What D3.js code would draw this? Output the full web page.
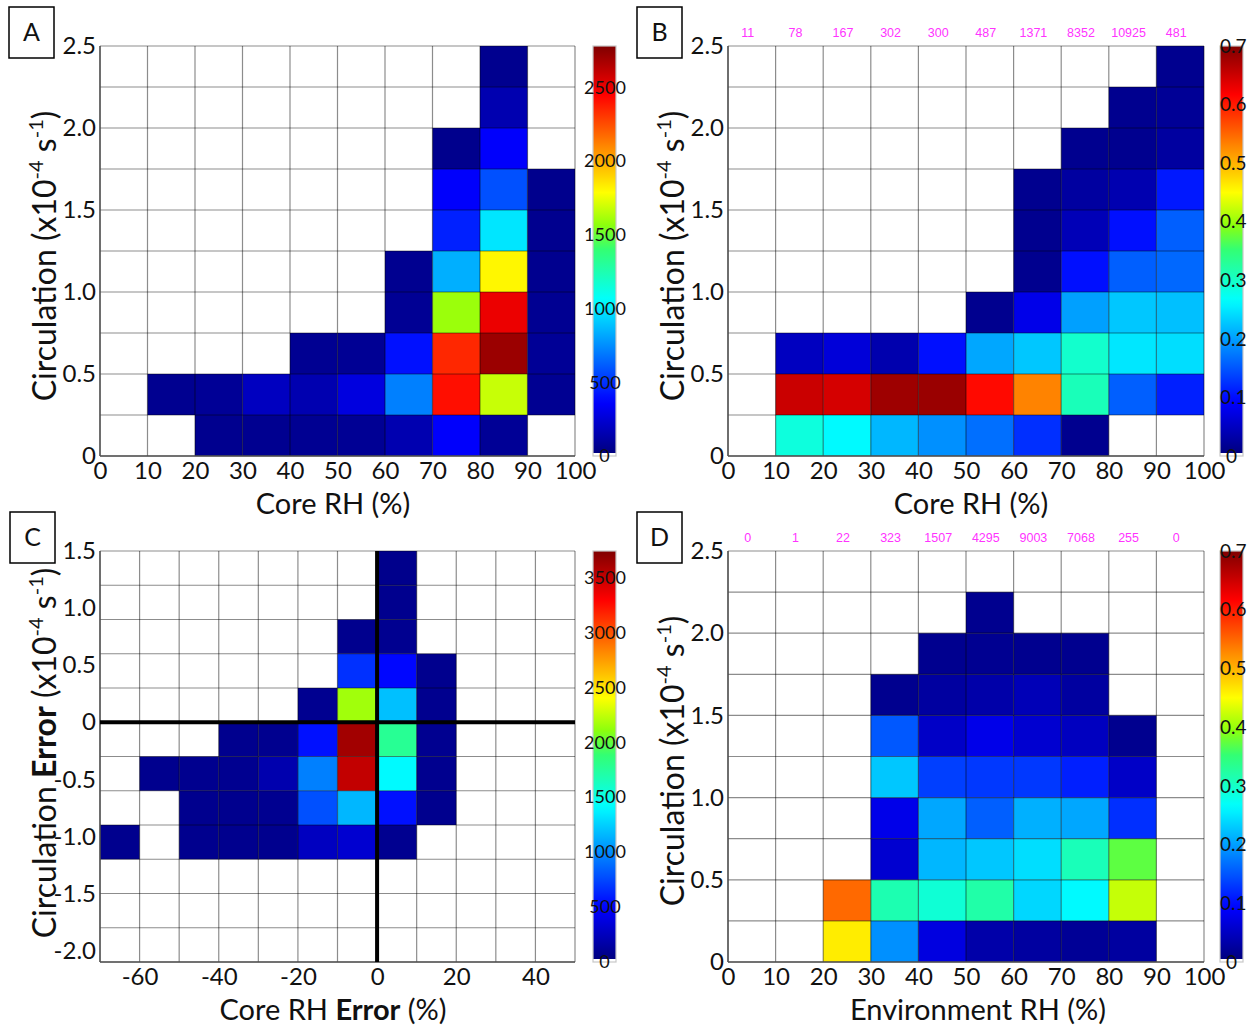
<!DOCTYPE html>
<html><head><meta charset="utf-8">
<script src="https://cdn.jsdelivr.net/npm/d3@7"></script>
<style>
body{margin:0;background:#fff}
text{font-family:Lato,"Open Sans",sans-serif;fill:#111}
</style>
</head><body>
<svg id="chart" width="1258" height="1026"></svg>
<script>
// ---------------- DATA ----------------
const rhTicks = [0,10,20,30,40,50,60,70,80,90,100];
const rhTickLabels = ["0","10","20","30","40","50","60","70","80","90","100"];
const circTicks = [0,0.5,1.0,1.5,2.0,2.5];
const circTickLabels = ["0","0.5","1.0","1.5","2.0","2.5"];
const errXTicks = [-60,-40,-20,0,20,40];
const errXTickLabels = ["-60","-40","-20","0","20","40"];
const errYTicks = [1.5,1.0,0.5,0,-0.5,-1.0,-1.5,-2.0];
const errYTickLabels = ["1.5","1.0","0.5","0","-0.5","-1.0","-1.5","-2.0"];

const cbCountTicksA = [0,500,1000,1500,2000,2500];
const cbCountTicksC = [0,500,1000,1500,2000,2500,3000,3500];
const cbFracTicks = [0,0.1,0.2,0.3,0.4,0.5,0.6,0.7];
const cbFracLabels = ["0","0.1","0.2","0.3","0.4","0.5","0.6","0.7"];

const samplesB = [11,78,167,302,300,487,1371,8352,10925,481];
const samplesD = [0,1,22,323,1507,4295,9003,7068,255,0];

// Panel A: counts, rows from circulation 0-0.25 (bottom) upward, columns Core RH 0-10 ... 90-100
const countA = [
  [null,null,40,45,50,55,130,340,60,null],
  [null,45,60,175,130,260,695,2410,1670,50],
  [null,null,null,null,50,55,390,2345,2710,60],
  [null,null,null,null,null,null,55,1585,2495,50],
  [null,null,null,null,null,null,45,825,1800,40],
  [null,null,null,null,null,null,null,435,975,40],
  [null,null,null,null,null,null,null,340,565,35],
  [null,null,null,null,null,null,null,35,340,null],
  [null,null,null,null,null,null,null,null,130,null],
  [null,null,null,null,null,null,null,null,40,null]
];
// Panel B: fraction per Core RH column
const fracB = [
  [null,0.284,0.259,0.213,0.186,0.164,0.120,0.010,null,null],
  [null,0.651,0.644,0.680,0.683,0.610,0.530,0.306,0.153,0.109],
  [null,0.044,0.061,0.032,0.098,0.202,0.224,0.294,0.246,0.240],
  [null,null,null,null,null,0.010,0.072,0.197,0.224,0.219],
  [null,null,null,null,null,null,0.010,0.098,0.153,0.159],
  [null,null,null,null,null,null,0.010,0.038,0.098,0.153],
  [null,null,null,null,null,null,0.010,0.022,0.033,0.104],
  [null,null,null,null,null,null,null,0.010,0.010,0.022],
  [null,null,null,null,null,null,null,null,0.010,0.015],
  [null,null,null,null,null,null,null,null,null,0.010]
];
// Panel C: counts, rows from circulation error -2.1..-1.8 (bottom) upward, columns core RH error -70..-60 ... 40..50
const countC = [
  [null,null,null,null,null,null,null,null,null,null,null,null],
  [null,null,null,null,null,null,null,null,null,null,null,null],
  [null,null,null,null,null,null,null,null,null,null,null,null],
  [50,null,50,50,50,235,295,60,null,null,null,null],
  [null,null,50,50,60,760,1140,525,50,null,null,null],
  [null,50,55,60,170,935,3505,1385,55,null,null,null],
  [null,null,null,50,55,525,3620,1760,60,null,null,null],
  [null,null,null,null,null,60,2150,1170,55,null,null,null],
  [null,null,null,null,null,null,645,490,50,null,null,null],
  [null,null,null,null,null,null,50,60,null,null,null,null],
  [null,null,null,null,null,null,null,50,null,null,null,null],
  [null,null,null,null,null,null,null,45,null,null,null,null]
];
// Panel D: fraction per Environment RH column
const fracD = [
  [null,null,0.460,0.186,0.066,0.028,0.022,0.015,0.022,null],
  [null,null,0.547,0.311,0.289,0.317,0.235,0.259,0.420,null],
  [null,null,null,0.055,0.213,0.224,0.240,0.306,0.370,null],
  [null,null,null,0.072,0.202,0.153,0.208,0.202,0.120,null],
  [null,null,null,0.224,0.131,0.126,0.126,0.109,0.049,null],
  [null,null,null,0.148,0.049,0.072,0.055,0.044,0.010,null],
  [null,null,null,0.010,0.022,0.028,0.038,0.022,null,null],
  [null,null,null,null,0.010,0.012,0.010,0.010,null,null],
  [null,null,null,null,null,0.010,null,null,null,null],
  [null,null,null,null,null,null,null,null,null,null]
];

// colour map (jet-like)
const cmapStops = [0,0.125,0.375,0.5,0.56,0.64,0.88,1];
const cmapColors = ["#000080","#0000ff","#00ffff","#33ff73","#8cff0d","#ffff00","#ff0000","#800000"];

// ---------------- HELPERS ----------------
const cmap = d3.scaleLinear().domain(cmapStops).range(cmapColors).interpolate(d3.interpolateRgb).clamp(true);
function jet(t){ return cmap(t); }
const svg = d3.select("#chart");
const defs = svg.append("defs");
const grad = defs.append("linearGradient").attr("id","jetgrad")
  .attr("x1",0).attr("y1",1).attr("x2",0).attr("y2",0);
d3.range(0,1.0001,0.02).forEach(t => grad.append("stop").attr("offset",t).attr("stop-color",jet(t)));

function panel(o){
  const g = svg.append("g");
  const xs = d3.scaleLinear().domain(o.xDomain).range([o.x0,o.x1]);
  const ys = d3.scaleLinear().domain(o.yDomain).range([o.y1,o.y0]);
  const color = d3.scaleSequential(jet).domain([0,o.max]);
  const nCols = Math.round((o.xDomain[1]-o.xDomain[0])/o.xStep);
  const nRows = Math.round((o.yDomain[1]-o.yDomain[0])/o.yStep);
  // cells
  const cells = [];
  o.data.forEach((row,i)=>row.forEach((v,j)=>{ if(v!==null) cells.push({i,j,v}); }));
  g.selectAll("rect.cell").data(cells).enter().append("rect")
    .attr("x", d=>xs(o.xDomain[0]+d.j*o.xStep))
    .attr("y", d=>ys(o.yDomain[0]+(d.i+1)*o.yStep))
    .attr("width", d=>xs(o.xDomain[0]+(d.j+1)*o.xStep)-xs(o.xDomain[0]+d.j*o.xStep))
    .attr("height", d=>ys(o.yDomain[0]+d.i*o.yStep)-ys(o.yDomain[0]+(d.i+1)*o.yStep))
    .attr("fill", d=>color(d.v));
  // grid
  const xe = d3.range(nCols+1).map(k=>o.xDomain[0]+k*o.xStep);
  const ye = d3.range(nRows+1).map(k=>o.yDomain[0]+k*o.yStep);
  g.selectAll("line.vx").data(xe).enter().append("line")
    .attr("x1",d=>xs(d)).attr("x2",d=>xs(d)).attr("y1",o.y0).attr("y2",o.y1)
    .attr("stroke","#000").attr("stroke-opacity",0.45).attr("stroke-width",1.2);
  g.selectAll("line.hy").data(ye).enter().append("line")
    .attr("y1",d=>ys(d)).attr("y2",d=>ys(d)).attr("x1",o.x0).attr("x2",o.x1)
    .attr("stroke","#000").attr("stroke-opacity",0.45).attr("stroke-width",1.2);
  // axes lines (left and bottom darker)
  g.append("line").attr("x1",o.x0).attr("x2",o.x0).attr("y1",o.y0).attr("y2",o.y1).attr("stroke","#555").attr("stroke-width",1.5);
  g.append("line").attr("x1",o.x0).attr("x2",o.x1).attr("y1",o.y1).attr("y2",o.y1).attr("stroke","#555").attr("stroke-width",1.5);
  if(o.cross){
    g.append("line").attr("x1",o.x0).attr("x2",o.x1).attr("y1",ys(0)).attr("y2",ys(0)).attr("stroke","#000").attr("stroke-width",4);
    g.append("line").attr("x1",xs(0)).attr("x2",xs(0)).attr("y1",o.y0).attr("y2",o.y1).attr("stroke","#000").attr("stroke-width",4);
  }
  // x axis labels
  const xa = d3.axisBottom(xs).tickValues(o.xTicks).tickFormat((d,i)=>o.xTickLabels[i]).tickSize(0).tickPadding(o.xTickPad);
  const gx = g.append("g").attr("transform",`translate(0,${o.y1})`).call(xa);
  gx.select(".domain").remove();
  gx.selectAll("text").style("font-size","24px").style("font-family","Lato").attr("fill","#111");
  const ya = d3.axisLeft(ys).tickValues(o.yTicks).tickFormat((d,i)=>o.yTickLabels[i]).tickSize(0).tickPadding(4);
  const gy = g.append("g").attr("transform",`translate(${o.x0},0)`).call(ya);
  gy.select(".domain").remove();
  gy.selectAll("text").style("font-size","24px").style("font-family","Lato").attr("fill","#111");
  // x title
  const xt = g.append("text").attr("x",o.xTitleX).attr("y",o.y1+o.xTitleDy).attr("text-anchor","middle").style("font-size",o.xTitleFont+"px");
  o.xTitle.forEach(p=>xt.append("tspan").text(p.t).style("font-weight",p.b?"700":"400"));
  // y title
  const yt = g.append("text").attr("transform",`translate(${o.x0-44},${o.yTitleY}) rotate(-90)`).attr("text-anchor","middle").style("font-size","32px");
  o.yTitle.forEach(p=>{
    const ts = yt.append("tspan").text(p.t).style("font-weight",p.b?"700":"400");
    if(p.sup){ ts.style("font-size","20px").attr("dy",-13); }
    if(p.after){ ts.attr("dy",13); }
  });
  // colorbar
  const cbs = d3.scaleLinear().domain([0,o.max]).range([o.y1,o.y0]);
  g.append("rect").attr("x",o.cbX).attr("y",o.y0).attr("width",o.cbW).attr("height",o.y1-o.y0-3).attr("fill","url(#jetgrad)");
  g.append("rect").attr("x",o.cbX).attr("y",o.y0).attr("width",o.cbW).attr("height",o.y1-o.y0).attr("fill","none").attr("stroke","#c8c8c8").attr("stroke-width",1.2);
  g.selectAll("text.cb").data(o.cbTicks).enter().append("text")
    .attr("x",d=>d===0 ? o.cbX+o.cbW/2 : o.cbLabelX).attr("y",d=>cbs(d)).attr("dy","0.35em")
    .attr("text-anchor",d=>d===0 ? "middle" : o.cbAnchor).style("font-size",o.cbFont+"px")
    .text((d,i)=>o.cbLabels[i]);
  // panel letter
  g.append("rect").attr("x",o.box[0]).attr("y",o.box[1]).attr("width",45).attr("height",51).attr("fill","#fff").attr("stroke","#000").attr("stroke-width",1.5);
  g.append("text").attr("x",o.box[0]+22.5).attr("y",o.box[1]+34).attr("text-anchor","middle").style("font-size","25px").text(o.letter);
  // sample counts
  if(o.counts){
    g.selectAll("text.cnt").data(o.counts).enter().append("text")
      .attr("x",(d,i)=>xs(o.xDomain[0]+(i+0.5)*o.xStep)-4).attr("y",o.y0-9)
      .attr("text-anchor","middle").style("font-size","12.5px").style("font-family","'Liberation Sans',Arial,sans-serif")
      .style("fill","#ff33ff").text(d=>d);
  }
}

const circTitle = [{t:"Circulation (x10"},{t:"-4",sup:true},{t:" s",after:true},{t:"-1",sup:true},{t:")",after:true}];
const circErrTitle = [{t:"Circulation "},{t:"Error",b:true},{t:" (x10"},{t:"-4",sup:true},{t:" s",after:true},{t:"-1",sup:true},{t:")",after:true}];

panel({letter:"A",box:[9,7],x0:100,x1:575,y0:46,y1:456,xDomain:[0,100],yDomain:[0,2.5],xStep:10,yStep:0.25,
  data:countA,max:2780,xTicks:rhTicks,xTickLabels:rhTickLabels,yTicks:circTicks,yTickLabels:circTickLabels,
  xTickPad:6,xTitle:[{t:"Core RH (%)"}],xTitleX:333,xTitleDy:57.5,xTitleFont:29,yTitle:circTitle,yTitleY:256,
  cbX:593,cbW:23,cbTicks:cbCountTicksA,cbLabels:cbCountTicksA.map(String),cbLabelX:605,cbAnchor:"middle",cbFont:18});
panel({letter:"B",box:[637,7],x0:728,x1:1204,y0:46,y1:456,xDomain:[0,100],yDomain:[0,2.5],xStep:10,yStep:0.25,
  data:fracB,max:0.7,xTicks:rhTicks,xTickLabels:rhTickLabels,yTicks:circTicks,yTickLabels:circTickLabels,
  xTickPad:6,xTitle:[{t:"Core RH (%)"}],xTitleX:971,xTitleDy:57.5,xTitleFont:29,yTitle:circTitle,yTitleY:256,counts:samplesB,
  cbX:1220,cbW:23,cbTicks:cbFracTicks,cbLabels:cbFracLabels,cbLabelX:1220,cbAnchor:"start",cbFont:19});
panel({letter:"C",box:[10,512],x0:100,x1:575,y0:551,y1:962,xDomain:[-70,50],yDomain:[-2.1,1.5],xStep:10,yStep:0.3,
  data:countC,max:3740,xTicks:errXTicks,xTickLabels:errXTickLabels,yTicks:errYTicks,yTickLabels:errYTickLabels,cross:true,
  xTickPad:6,xTitle:[{t:"Core RH "},{t:"Error",b:true},{t:" (%)"}],xTitleX:333,xTitleDy:57.5,xTitleFont:29,yTitle:circErrTitle,yTitleY:753,
  cbX:593,cbW:23,cbTicks:cbCountTicksC,cbLabels:cbCountTicksC.map(String),cbLabelX:605,cbAnchor:"middle",cbFont:18});
panel({letter:"D",box:[637,512],x0:728,x1:1204,y0:551,y1:962,xDomain:[0,100],yDomain:[0,2.5],xStep:10,yStep:0.25,
  data:fracD,max:0.7,xTicks:rhTicks,xTickLabels:rhTickLabels,yTicks:circTicks,yTickLabels:circTickLabels,
  xTickPad:6,xTitle:[{t:"Environment RH (%)"}],xTitleX:978,xTitleDy:57.5,xTitleFont:29,yTitle:circTitle,yTitleY:761,counts:samplesD,
  cbX:1220,cbW:23,cbTicks:cbFracTicks,cbLabels:cbFracLabels,cbLabelX:1220,cbAnchor:"start",cbFont:19});
</script>
</body></html>
